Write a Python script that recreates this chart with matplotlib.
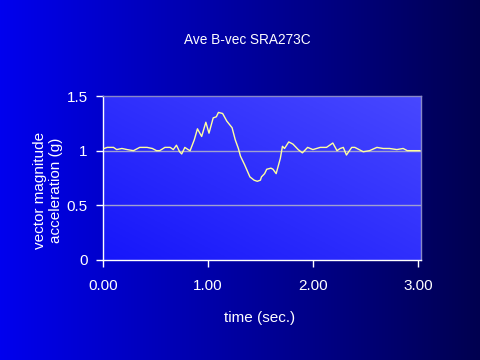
import numpy as np
import matplotlib
matplotlib.use("Agg")
import matplotlib.pyplot as plt

# ---- data ----
time_s = [0.01, 0.04, 0.10, 0.13, 0.18, 0.23, 0.29, 0.35, 0.42, 0.47,
          0.51, 0.54, 0.59, 0.64, 0.67, 0.70, 0.73, 0.75, 0.78, 0.81,
          0.83, 0.87, 0.90, 0.94, 0.98, 1.01, 1.05, 1.08, 1.10, 1.14,
          1.18, 1.23, 1.26, 1.29, 1.31, 1.35, 1.40, 1.44, 1.47, 1.50,
          1.51, 1.54, 1.56, 1.60, 1.62, 1.65, 1.69, 1.71, 1.73, 1.77,
          1.81, 1.86, 1.90, 1.92, 1.95, 2.00, 2.07, 2.13, 2.19, 2.23,
          2.26, 2.29, 2.32, 2.37, 2.40, 2.48, 2.54, 2.61, 2.67, 2.73,
          2.80, 2.86, 2.90, 2.95, 3.02]
accel_g = [1.02, 1.03, 1.03, 1.01, 1.02, 1.01, 1.00, 1.03, 1.03, 1.02,
           1.00, 1.00, 1.03, 1.03, 1.01, 1.05, 0.99, 0.97, 1.03, 1.01,
           1.00, 1.10, 1.20, 1.13, 1.26, 1.16, 1.30, 1.31, 1.35, 1.34,
           1.27, 1.21, 1.10, 1.02, 0.95, 0.87, 0.76, 0.73, 0.72, 0.73,
           0.76, 0.79, 0.83, 0.84, 0.83, 0.79, 0.93, 1.04, 1.02, 1.08,
           1.06, 1.01, 0.98, 1.00, 1.03, 1.01, 1.03, 1.03, 1.07, 1.00,
           1.02, 1.03, 0.96, 1.03, 1.03, 0.99, 1.00, 1.03, 1.02, 1.02,
           1.01, 1.02, 1.00, 1.00, 1.00]
x_ticks = [0, 1, 2, 3]
x_ticklabels = ["0.00", "1.00", "2.00", "3.00"]
y_ticks = [0, 0.5, 1, 1.5]
y_ticklabels = ["0", "0.5", "1", "1.5"]

plt.rcParams['font.family'] = ['Liberation Sans', 'DejaVu Sans']

fig = plt.figure(figsize=(4.8, 3.6), dpi=100)

# background: horizontal gradient bright blue -> navy
bg = fig.add_axes([0, 0, 1, 1], zorder=-10)
h = np.linspace(0, 1, 256)
left_c = np.array([0, 0, 238]) / 255.
right_c = np.array([0, 0, 80]) / 255.
bgimg = left_c[None, :] * (1 - h[:, None]) + right_c[None, :] * h[:, None]
bg.imshow(bgimg[None, :, :], aspect='auto', extent=[0, 1, 0, 1])
bg.set_axis_off()

ax = fig.add_axes([0.2146, 0.2778, 0.877 - 0.2146, 0.7333 - 0.2778])
ax.patch.set_visible(False)

# plot area: diagonal gradient
gx, gy = np.meshgrid(np.linspace(0, 1, 100), np.linspace(0, 1, 100))
d = (gx + gy) / 2
bl = np.array([22, 22, 250]) / 255.
tr = np.array([72, 72, 255]) / 255.
pimg = bl[None, None, :] * (1 - d[..., None]) + tr[None, None, :] * d[..., None]
ax.imshow(pimg, extent=[0, 1, 0, 1], transform=ax.transAxes, aspect='auto',
          origin='lower', zorder=0)

for yv in [0.5, 1.0]:
    ax.axhline(yv, color='#a0a0d0', lw=1, zorder=1)

ax.plot(time_s, accel_g, color='#ffffa0', lw=1.0, zorder=3)

ax.set_xlim(0, 3.03)
ax.set_ylim(0, 1.5)
ax.set_xticks(x_ticks)
ax.set_xticklabels(x_ticklabels)
ax.set_yticks(y_ticks)
ax.set_yticklabels(y_ticklabels)

ax.spines['left'].set_color('white')
ax.spines['bottom'].set_color('white')
ax.spines['top'].set_color('#8888c8')
ax.spines['right'].set_color('#8888c8')
for s in ax.spines.values():
    s.set_linewidth(1)

ax.tick_params(colors='white', direction='out', length=5, width=1,
               labelsize=11, pad=4)
ax.tick_params(axis='x', pad=9)
ax.tick_params(axis='y', pad=6)

fig.text(0.515, 0.89, "Ave B-vec SRA273C", color='white', fontsize=9.8,
         ha='center', va='center')
fig.text(0.54, 0.117, "time (sec.)", color='white', fontsize=11,
         ha='center', va='center')
fig.text(0.100, 0.47, "vector magnitude\nacceleration (g)", color='white',
         fontsize=11, ha='center', va='center', rotation=90,
         multialignment='center', linespacing=1.2)

fig.savefig("out.png", dpi=100)
